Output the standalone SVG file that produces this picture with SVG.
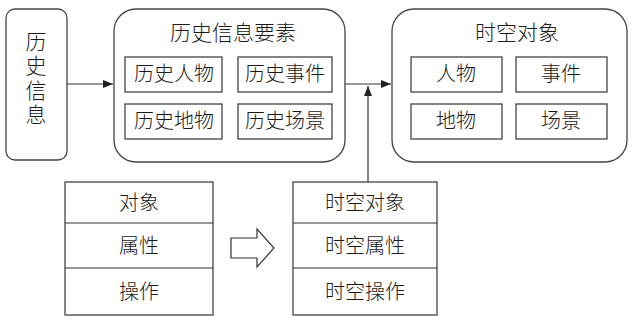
<svg xmlns="http://www.w3.org/2000/svg" width="632" height="321" viewBox="0 0 632 321">
<defs>
<style>
text{font-family:"Liberation Serif","Noto Sans CJK SC",serif;fill:#1a1a1a;text-anchor:middle;dominant-baseline:central;font-weight:300}
.t{font-size:21px}
.l{font-size:20px}
.b{fill:#fff;stroke:#444;stroke-width:1.3}
.c{fill:none;stroke:#333;stroke-width:1.2}
</style>
<marker id="ah" viewBox="0 0 10 10" refX="10" refY="5" markerWidth="10" markerHeight="10" markerUnits="userSpaceOnUse" orient="auto"><path d="M0,1 L10,5 L0,9 Z" fill="#222"/></marker>
</defs>
<g id="connectors">
<line class="c" x1="67" y1="84" x2="113" y2="84" marker-end="url(#ah)"/>
<line class="c" x1="345" y1="84" x2="391" y2="84" marker-end="url(#ah)"/>
<line class="c" x1="368" y1="182" x2="368" y2="86" marker-end="url(#ah)"/>
<path class="c" d="M231,238 H257 V229 L274,248 L257,267 V258 H231 Z" fill="#fff"/>
</g>
<g id="n-lishixinxi">
<rect class="b" x="6" y="9" width="61" height="151" rx="9"/>
<text class="t" x="36" y="42">历</text>
<text class="t" x="36" y="66">史</text>
<text class="t" x="36" y="91">信</text>
<text class="t" x="36" y="115">息</text>
</g>
<g id="n-yaosu">
<rect class="b" x="114" y="9" width="231" height="153" rx="22"/>
<text class="t" x="233" y="33">历史信息要素</text>
<rect class="b" x="125" y="57" width="97" height="35"/>
<text class="l" x="174" y="74">历史人物</text>
<rect class="b" x="238" y="57" width="94" height="35"/>
<text class="l" x="285" y="74">历史事件</text>
<rect class="b" x="125" y="104" width="97" height="35"/>
<text class="l" x="174" y="121">历史地物</text>
<rect class="b" x="238" y="104" width="94" height="35"/>
<text class="l" x="285" y="121">历史场景</text>
</g>
<g id="n-shikong">
<rect class="b" x="392" y="9" width="235" height="153" rx="22"/>
<text class="t" x="517" y="33">时空对象</text>
<rect class="b" x="411" y="57" width="91" height="35"/>
<text class="l" x="456" y="74">人物</text>
<rect class="b" x="516" y="57" width="91" height="35"/>
<text class="l" x="561" y="74">事件</text>
<rect class="b" x="411" y="104" width="91" height="35"/>
<text class="l" x="456" y="121">地物</text>
<rect class="b" x="516" y="104" width="91" height="35"/>
<text class="l" x="561" y="121">场景</text>
</g>
<g id="n-table1">
<rect class="b" x="65" y="182" width="148" height="133"/>
<line class="c" x1="65" y1="223" x2="213" y2="223"/>
<line class="c" x1="65" y1="268" x2="213" y2="268"/>
<text class="l" x="139" y="203">对象</text>
<text class="l" x="139" y="246">属性</text>
<text class="l" x="139" y="292">操作</text>
</g>
<g id="n-table2">
<rect class="b" x="293" y="182" width="144" height="133"/>
<line class="c" x1="293" y1="223" x2="437" y2="223"/>
<line class="c" x1="293" y1="268" x2="437" y2="268"/>
<text class="l" x="365" y="203">时空对象</text>
<text class="l" x="365" y="246">时空属性</text>
<text class="l" x="365" y="292">时空操作</text>
</g>
</svg>
